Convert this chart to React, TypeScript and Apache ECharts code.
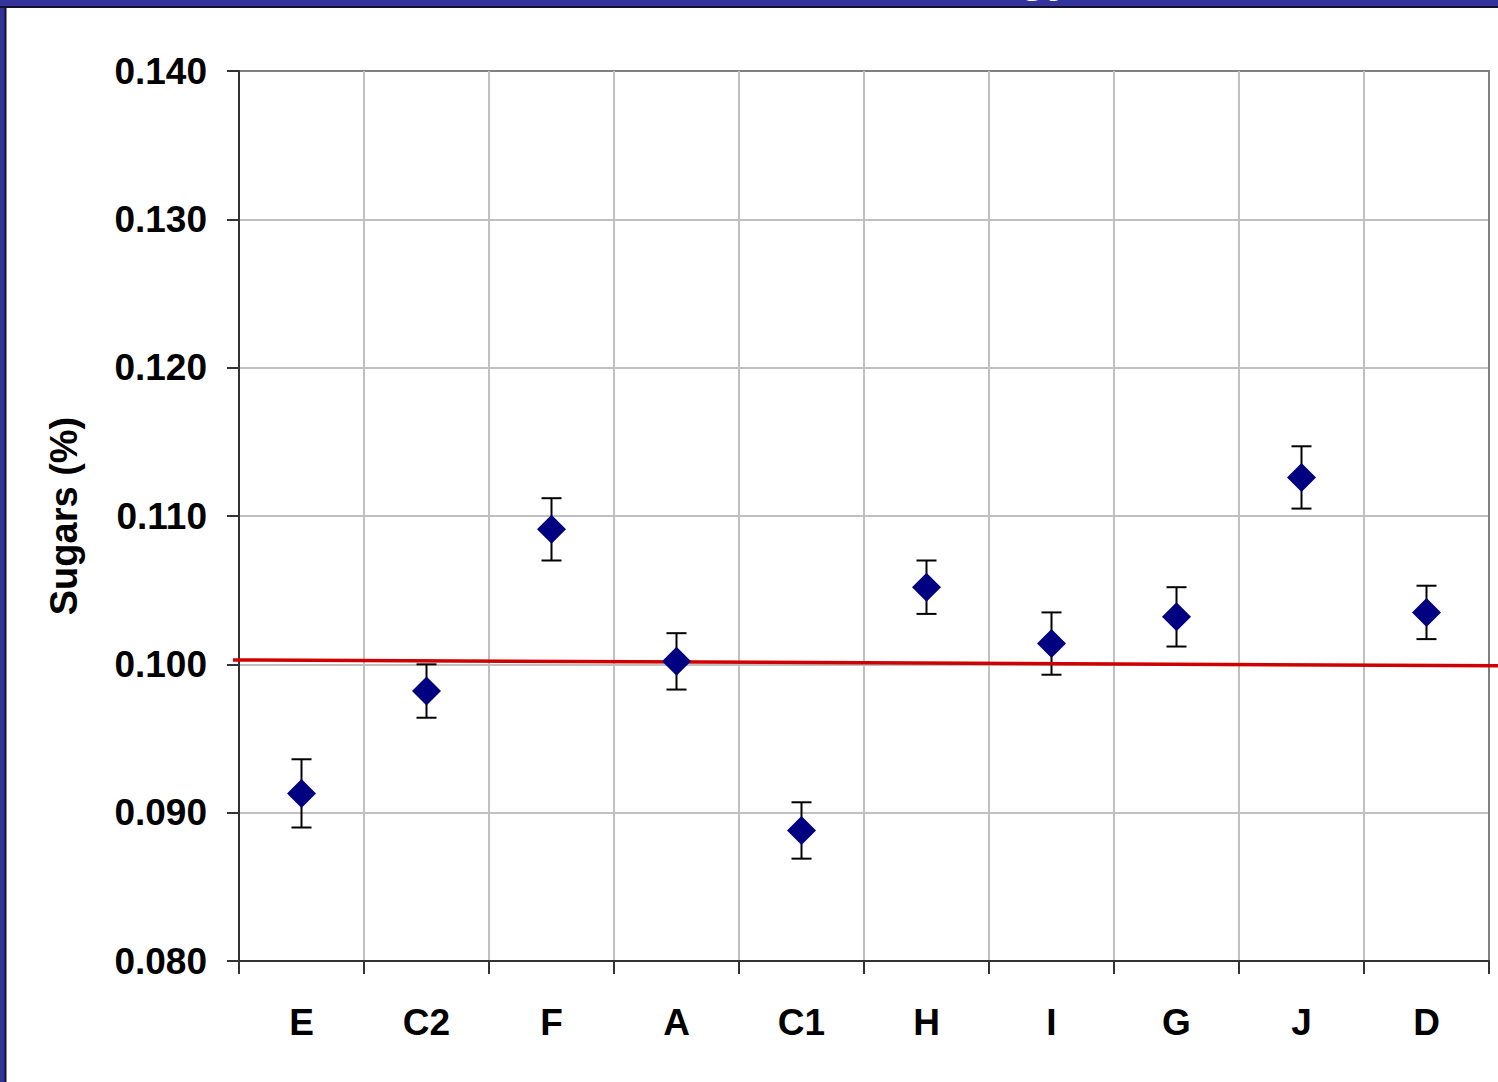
import React, { useEffect, useRef } from "react";
import * as echarts from "echarts";

const categories = ["E", "C2", "F", "A", "C1", "H", "I", "G", "J", "D"];
const means = [0.0913, 0.0982, 0.1091, 0.1002, 0.0888, 0.1052, 0.1014, 0.1032, 0.1126, 0.1035];
const errors = [0.0023, 0.0018, 0.0021, 0.0019, 0.0019, 0.0018, 0.0021, 0.002, 0.0021, 0.0018];
const refLineX = [0, 1];
const refLineY = [0.1003, 0.0999];
const yTicks = { min: 0.08, max: 0.14, interval: 0.01 };

const FONT = "'Liberation Sans', Arial, sans-serif";
const GRID = "#c0c0c0";
const BORDER = "#808080";

export default function App() {
  const ref = useRef<HTMLDivElement>(null);
  useEffect(() => {
    if (!ref.current) return;
    const chart = echarts.init(ref.current, null, { renderer: "svg" });
    const errData = categories.map((_, i) => [i, means[i] - errors[i], means[i] + errors[i]]);
    const ySplitColors = [GRID, GRID, GRID, GRID, GRID, GRID, BORDER];
    const xSplitColors = categories.map(() => GRID).concat([BORDER]);
    const option: any = {
      animation: false,
      backgroundColor: "#ffffff",
      grid: [
        {
          left: 239,
          top: 71,
          right: 9,
          bottom: 121,
          show: true,
          borderColor: BORDER,
          borderWidth: 2,
          backgroundColor: "transparent",
        },
        { left: 233, top: 71, right: 0, bottom: 121, show: false },
      ],
      xAxis: [
        {
          type: "category",
          gridIndex: 0,
          data: categories,
          boundaryGap: true,
          axisLine: { show: true, lineStyle: { color: "#333", width: 2 } },
          axisTick: { show: true, length: 13, interval: 0, lineStyle: { color: "#333", width: 2 } },
          splitLine: { show: true, interval: 0, lineStyle: { color: xSplitColors, width: 2 } },
          axisLabel: {
            interval: 0,
            margin: 43,
            color: "#000",
            fontSize: 37,
            fontWeight: "bold",
            fontFamily: FONT,
          },
        },
        { type: "value", gridIndex: 1, min: 0, max: 1, show: false },
      ],
      yAxis: [
        {
          type: "value",
          gridIndex: 0,
          min: yTicks.min,
          max: yTicks.max,
          interval: yTicks.interval,
          name: "Sugars (%)",
          nameLocation: "middle",
          nameGap: 156,
          nameTextStyle: { color: "#000", fontSize: 38, fontWeight: "bold", fontFamily: FONT },
          axisLine: { show: true, lineStyle: { color: "#333", width: 2 } },
          axisTick: { show: true, length: 12, lineStyle: { color: "#333", width: 2 } },
          splitLine: { show: true, lineStyle: { color: ySplitColors, width: 2 } },
          axisLabel: {
            margin: 32,
            color: "#000",
            fontSize: 37,
            fontWeight: "bold",
            fontFamily: FONT,
            formatter: (v: number) => v.toFixed(3),
          },
        },
        { type: "value", gridIndex: 1, min: yTicks.min, max: yTicks.max, show: false },
      ],
      series: [
        {
          type: "custom",
          xAxisIndex: 0,
          yAxisIndex: 0,
          z: 2,
          data: errData,
          encode: { x: 0, y: [1, 2] },
          renderItem: (params: any, api: any) => {
            const x = api.value(0);
            const lo = api.coord([x, api.value(1)]);
            const hi = api.coord([x, api.value(2)]);
            const hw = 10;
            const st = { stroke: "#000", lineWidth: 2 };
            return {
              type: "group",
              children: [
                { type: "line", shape: { x1: lo[0], y1: lo[1], x2: hi[0], y2: hi[1] }, style: st },
                { type: "line", shape: { x1: lo[0] - hw, y1: lo[1], x2: lo[0] + hw, y2: lo[1] }, style: st },
                { type: "line", shape: { x1: hi[0] - hw, y1: hi[1], x2: hi[0] + hw, y2: hi[1] }, style: st },
              ],
            };
          },
        },
        {
          type: "line",
          xAxisIndex: 1,
          yAxisIndex: 1,
          z: 3,
          symbol: "none",
          data: refLineX.map((x, i) => [x, refLineY[i]]),
          lineStyle: { color: "#d00000", width: 3.5 },
        },
        {
          type: "scatter",
          xAxisIndex: 0,
          yAxisIndex: 0,
          z: 4,
          symbol: "diamond",
          symbolSize: [29, 29],
          data: means.map((m, i) => [i, m]),
          itemStyle: { color: "#000080", opacity: 1 },
        },
      ],
      graphic: [
        { type: "rect", shape: { x: 0, y: 0, width: 1498, height: 7 }, style: { fill: "#333399" }, z: 10 },
        { type: "rect", shape: { x: 0, y: 6, width: 1498, height: 2 }, style: { fill: "#111133" }, z: 11 },
        { type: "rect", shape: { x: 0, y: 0, width: 5, height: 1082 }, style: { fill: "#333399" }, z: 10 },
        { type: "rect", shape: { x: 4.5, y: 7, width: 2, height: 1075 }, style: { fill: "#111133" }, z: 11 },
        {
          type: "text",
          x: 1018,
          y: -26,
          z: 12,
          style: {
            text: "gy",
            fill: "#ffffff",
            fontSize: 48,
            fontWeight: "bold",
            fontFamily: FONT,
            verticalAlign: "middle",
          },
        },
      ],
    };
    chart.setOption(option);
    return () => chart.dispose();
  }, []);
  return (
    <div
      ref={ref}
      style={{ position: "absolute", left: 0, top: 0, width: 1498, height: 1082, background: "#fff" }}
    />
  );
}
